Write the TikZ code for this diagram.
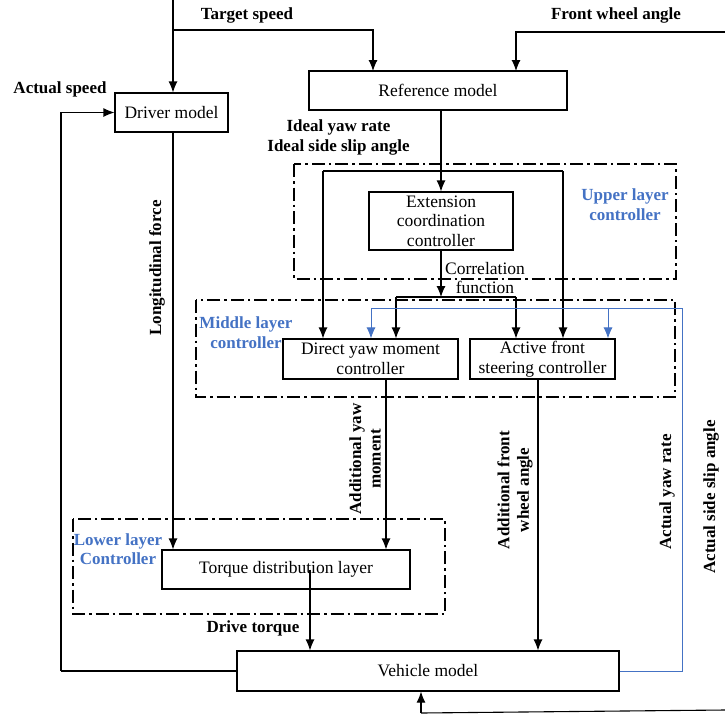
\documentclass[tikz,border=0pt]{standalone}
\usepackage{fontspec}
\setmainfont{Liberation Serif}
\usetikzlibrary{arrows.meta}
\definecolor{lblue}{RGB}{68,114,196}
\begin{document}
\begin{tikzpicture}[x=1pt,y=-1pt,
  box/.style={draw, line width=1.1pt, inner sep=0pt, align=center,
    font=\fontsize{17.5}{19.5}\selectfont},
  lbl/.style={inner sep=0pt, align=center, font=\fontsize{17}{19.5}\selectfont\bfseries},
  blbl/.style={lbl, text=lblue},
  plain/.style={inner sep=0pt, align=center, font=\fontsize{17.5}{19.5}\selectfont},
  arr/.style={line width=1.1pt, -{Latex[length=11pt,width=9pt]}},
  ln/.style={line width=1.1pt},
  barr/.style={line width=0.9pt, draw=lblue, -{Latex[length=11pt,width=9pt]}},
  bln/.style={line width=0.9pt, draw=lblue},
  layer/.style={draw, line width=2pt, dash pattern=on 13pt off 4pt on 2.5pt off 4pt}]
\useasboundingbox (0,0) rectangle (725,715);

% layer frames
\draw[layer] (294,164) rectangle (676,279);
\draw[layer] (196,300) rectangle (675,397);
\draw[layer] (73,519) rectangle (445,614);

% boxes
\node[box, minimum width=258pt, minimum height=39pt] (ref) at (438,90.5) {Reference model};
\node[box, minimum width=113pt, minimum height=39pt] (driver) at (171.5,112.5) {Driver model};
\node[box, minimum width=144pt, minimum height=58pt] (ext) at (441,221) {Extension\\coordination\\controller};
\node[box, minimum width=175pt, minimum height=40pt] (dyc) at (370.5,359) {Direct yaw moment\\controller};
\node[box, minimum width=145pt, minimum height=40pt] (afs) at (542.5,359) {Active front\\steering controller};
\node[box, minimum width=248pt, minimum height=39pt] (torque) at (286,569.5) {Torque distribution layer};
\node[box, minimum width=382pt, minimum height=40pt] (vehicle) at (428,671) {Vehicle model};

% labels
\node[lbl] (tspeed) at (247,15) {Target speed};
\node[lbl] (fwa) at (616,15) {Front wheel angle};
\node[lbl] (aspeed) at (60,89) {Actual speed};
\node[lbl] (ideal) at (338.5,137.5) {Ideal yaw rate\\Ideal side slip angle};
\node[plain] (corr) at (485,278) {Correlation\\function};
\node[blbl] (upper) at (625,204.5) {Upper layer\\controller};
\node[blbl] (middle) at (246,332.5) {Middle layer\\controller};
\node[blbl] (lower) at (118,549) {Lower layer\\Controller};
\node[lbl, rotate=90] (lforce) at (157,268) {Longitudinal force};
\node[lbl, rotate=90] (aym) at (365,459) {Additional yaw\\moment};
\node[lbl, rotate=90] (afwa) at (515,490) {Additional front\\wheel angle};
\node[lbl, rotate=90] (ayr) at (667,492) {Actual yaw rate};
\node[lbl, rotate=90] (assa) at (711,497) {Actual side slip angle};
\node[lbl] (dtorque) at (253,628) {Drive torque};

% coordinates
\coordinate (tsin) at (173,0);
\coordinate (tsj) at (173,30);
\coordinate (refin1) at (373,71);
\coordinate (fwin) at (725,32);
\coordinate (refin2) at (516,71);
\coordinate (fbl) at (61,671);
\coordinate (refout) at (441,110);
\coordinate (brl) at (323,171);
\coordinate (brr) at (563,171);
\coordinate (cj) at (441,297);
\coordinate (cjl) at (396,297);
\coordinate (cjr) at (516,297);
\coordinate (bfr) at (682,671);
\coordinate (bft) at (682,308);
\coordinate (bfl) at (371,308);
\coordinate (bfm) at (608,308);
\coordinate (dycout) at (386,379);
\coordinate (afsout) at (538,379);
\coordinate (tqout) at (310,569.5);
\coordinate (botr) at (725,710);
\coordinate (botl) at (421,713);

% connectors
\draw[arr] (tsin) -- (tsin |- driver.north);
\draw[arr] (tsj) -| (refin1);
\draw[arr] (fwin) -| (refin2);
\draw[ln] (vehicle.west) -- (fbl);
\draw[arr] (fbl) |- (driver.west);
\draw[arr] (driver.south -| tsin) -- (tsin |- torque.north);
\draw[arr] (refout) -- (refout |- ext.north);
\draw[ln] (brl) -- (brr);
\draw[arr] (brl) -- (brl |- dyc.north);
\draw[arr] (brr) -- (brr |- afs.north);
\draw[arr] (ext.south) -- (cj);
\draw[ln] (cjl) -- (cjr);
\draw[arr] (cjl) -- (cjl |- dyc.north);
\draw[arr] (cjr) -- (cjr |- afs.north);
\draw[bln] (vehicle.east) -- (bfr) -- (bft) -- (bfl);
\draw[barr] (bfl) -- (bfl |- dyc.north);
\draw[barr] (bfm) -- (bfm |- afs.north);
\draw[arr] (dycout) -- (dycout |- torque.north);
\draw[arr] (afsout) -- (afsout |- vehicle.north);
\draw[arr] (tqout) -- (tqout |- vehicle.north);
\draw[ln] (botr) -- (botl);
\draw[arr] (botl) -- (botl |- vehicle.south);
\end{tikzpicture}
\end{document}
